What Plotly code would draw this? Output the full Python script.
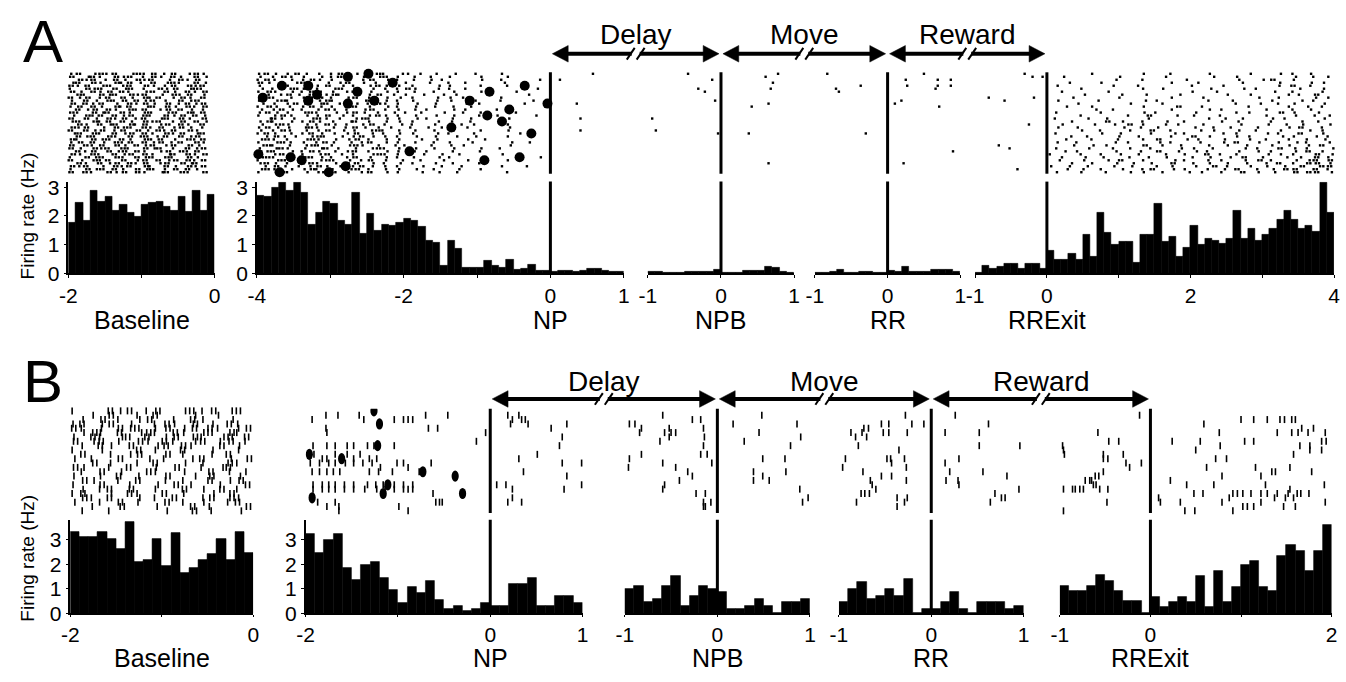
import plotly.graph_objects as go

W, H = 1346, 682
BIN = 0.1

# ---------------- histogram data (firing rate, Hz; 0.1 s bins) ----------------
A_BASE_T0 = -2.0
A_BASE_HIST = [1.76, 2.47, 1.84, 2.88, 2.5, 2.69, 2.18, 2.41, 2.13, 1.99,
               2.39, 2.47, 2.5, 2.31, 2.18, 2.69, 2.16, 2.88, 2.18, 2.73]
A_MAIN_T0 = -4.0
A_MAIN_HIST = [2.72, 2.66, 3.0, 3.17, 2.89, 3.17, 2.83, 1.71, 2.13, 2.49,
               2.44, 1.84, 1.69, 2.83, 1.39, 2.07, 1.48, 1.69, 1.65, 1.76,
               1.90, 1.84, 1.62, 1.15, 1.06, 0.25, 1.15, 0.87, 0.18, 0.21,
               0.21, 0.45, 0.25, 0.21, 0.47, 0.13, 0.16, 0.30, 0.10, 0.08,
               0.05, 0.08, 0.08, 0.05, 0.10, 0.15, 0.15, 0.08, 0.06, 0.06]
A_NPB_T0 = -1.0
A_NPB_HIST = [0.06, 0.06, 0.01, 0.01, 0.01, 0.06, 0.06, 0.06, 0.06, 0.13,
              0.02, 0.02, 0.02, 0.08, 0.08, 0.08, 0.22, 0.18, 0.06, 0.01]
A_RR_T0 = -1.0
A_RR_HIST = [0.02, 0.03, 0.04, 0.12, 0.02, 0.02, 0.06, 0.06, 0.02, 0.03,
             0.10, 0.05, 0.22, 0.06, 0.05, 0.05, 0.11, 0.11, 0.11, 0.04]
A_RRX_T0 = -1.0
A_RRX_HIST = [0.02, 0.25, 0.16, 0.22, 0.34, 0.34, 0.16, 0.34, 0.34, 0.16,
              0.79, 0.47, 0.47, 0.67, 0.47, 1.34, 0.58, 2.10, 1.43, 1.00,
              1.11, 1.11, 0.36, 1.34, 1.34, 2.42, 1.11, 1.28, 0.58, 0.90,
              1.67, 1.01, 1.22, 1.15, 1.03, 1.22, 2.19, 1.22, 1.56, 1.15,
              1.34, 1.56, 1.87, 2.19, 1.87, 1.57, 1.67, 1.45, 3.17, 2.10]

B_BASE_T0 = -2.0
B_BASE_HIST = [3.33, 3.10, 3.10, 3.33, 3.03, 2.63, 3.72, 2.10, 2.18, 3.03,
               1.95, 3.26, 1.64, 1.86, 2.18, 2.41, 3.03, 2.18, 3.33, 2.47]
B_MAIN_T0 = -2.0
B_MAIN_HIST = [3.23, 2.47, 2.97, 3.23, 1.84, 1.35, 1.96, 2.09, 1.46, 0.95,
               0.44, 1.08, 0.82, 1.33, 0.57, 0.19, 0.32, 0.09, 0.19, 0.44,
               0.32, 0.32, 1.20, 1.20, 1.46, 0.32, 0.32, 0.70, 0.70, 0.44]
B_NPB_T0 = -1.0
B_NPB_HIST = [1.00, 1.13, 0.46, 0.59, 1.13, 1.54, 0.32, 0.72, 1.13, 1.00,
              0.87, 0.17, 0.17, 0.32, 0.59, 0.32, 0.04, 0.46, 0.46, 0.59]
B_RR_T0 = -1.0
B_RR_HIST = [0.46, 1.00, 1.28, 0.59, 0.72, 1.00, 0.72, 1.41, 0.04, 0.17,
             0.17, 0.46, 0.87, 0.17, 0.04, 0.46, 0.46, 0.46, 0.17, 0.32]
B_RRX_T0 = -1.0
B_RRX_HIST = [1.13, 0.92, 0.92, 1.13, 1.55, 1.34, 0.92, 0.50, 0.50, 0.04,
              0.68, 0.26, 0.49, 0.68, 0.49, 1.51, 0.26, 1.73, 0.49, 1.10,
              1.96, 2.15, 1.10, 0.90, 2.35, 2.79, 2.56, 1.73, 2.56, 3.60]

# ---------------- raster data ----------------
# grid rows: '.' no spike, digit d = one spike at (col + d/10) of the bin,
# letter a-e = two spikes in the bin (first at (idx/10 + 0.05), second 0.45 later)
A_BASE_RASTER_T0, A_BASE_RASTER_DT = -2.0, 0.1
A_BASE_RASTER = [
    "4b.7c2a.9d3e.1b.6c5",
    "c.8a3.d6b.2e7.a4.c9",
    ".e5b.1c8.d4a.9.b3e.",
    "7a.c4.e2b9.d.6a1.c8",
    "b3d.8c.5a.e7.2b.d4a",
    "2.e6a.b9c.3.d5e.8b1",
    "d8.b4e.a2.7c.b6.a3e",
    ".c1.d7a.e5b.9.c2d.6",
    "a6e.3b.c8.d1a.4e7.b",
    "5.b9.d2e.a6c.3.b8d.",
    "e.a4c.7.b3d8.e.1a5c",
    "3d.b6.e1a.9c.d7.b2e",
    ".a7e.c5.d2b.6e.a9.4",
    "c2.d8a.b4.e3.7c.d1b",
    "8.e3b.a6d.c1.b5e.a7",
    "b.c9.d4e.2a.8b.c6.d",
    "6a.e2c.b7.d5a.3e.c9",
    ".d5.a8b.e1c.7d.b4.a",
    "e4c.9.d6a.b2e.5c8.3",
    "a.b7e.3c.d9.a1b.e6.",
    "9c.d2.a8e.b5.c3d.7a",
    ".b6a.e4.c9d.2a.b8e.",
    "d1.c7b.a5.e3d.6.c2b",
    "4e.a9.d3c.b7e.1a.d5",
    "c.b2d.e8.a6c.4b.e9.",
    "b7.e5a.c1.d8b.3.a6c",
    ".a3c.d9e.b4.7e.c2d.",
    "e6.b1.a7d.c5.9a.b3e",
    "2.d8c.e4.b6a.c1.d7.",
    "a9.e3b.d.5c.a8e.b2c",
    ".c4.a7e.b2d.6c.e9a.",
    "d5b.8.c3a.e1.b7.d4c",
    "3.e9d.a5.c8b.2e.a6.",
    "b.a1.d6e.c4.9b.d3.e",
]
A_MAIN_RASTER_T0, A_MAIN_RASTER_DT = -4.0, 0.1
A_MAIN_RASTER = [
    "3a6.2c8.5.1b.7.4d2.96.3.5..1.8...4......",
    "5.2e7.4.9.1a3.6.8c.2.5.7..3...6...2.....",
    "1b4.8.3d6.2.7.5e.9.1.4.8.2....7..3....6.",
    "c7.3.5a1.8.4b.6.2.9.3..6..1.4....8......",
    "4.9d2.6.3e.8.1.5c7.4.2..9.3...5...1.....",
    "8.1.6a4.2.7b.3.9.5.1d6..8.2.4..7......3.",
    "2e5.9.1c7.4.3a.6.8.2.5..1.9...6....4....",
    ".6.3b8.2.5d1.9.4e.7.3.8..5.2...9.....1..",
    "6c2.7.4a9.1.5b.3.8.6.2..7.4.1....3......",
    "3.8d1.5.6e2.4.9c.7.1.3..6.5..8...2...7..",
    "9.4.2a6.8b.3.7.1d5.2.9..4...6.3.....5...",
    "1e7.5.3c8.2.6a.4.9.1.7..3.8..2....6.....",
    "7.3b9.1.4d6.2.8e.5.3.6.1..9.4...7.......",
    "4c8.2.6a1.9.3b7.5.8.2.4..6..1.5....3....",
    "2.5d7.9.3e.8.1.4c6.2.7..5.9...3.8.....1.",
    ".9a4.1.7b5.3.6d2.8.4.9.1..7..2....4.....",
    "5e1.8.2c6.4.9a.3.7.5.2..8.6..1...3......",
    "8.6b3.9.1d7.2.5e.4.8.1..3..9.6....2.....",
    "3c9.4.7a2.5.1b8.6.3.9..4.2..7.....5.....",
    "6.2d5.8.4e.9.3.7c1.4.6..2.8...5...3.....",
    "1a5.7.2b9.6.4d.8.2.5.3..7.1..6.....9....",
    ".4e8.3.6c1.7.2a9.5.1.8..4..3.9....2.....",
    "7b3.1.9d4.8.6e.2.7.4..5.6...8..1........",
    "2.8c6.4.1a5.9.3b.7.2.6..1.3..4....8..2..",
    "9d1.5.8e3.2.7c4.6.9.1..8..5.2.....6.....",
    "4.7a2.6.9b.1.5.8d3.4.7..2.9...6..1......",
    "6e3.9.1c5.7.4a.2.8.3.5.1..7...4.........",
    "3.5b8.2.7d.6.1.9e4.2..8..3.6.....5......",
    "8c2.4.6a9.1.3b.5.7.1.4..9.2...........7.",
    "1.9d5.3.8e4.7.2c.6.9..3..5..8.....2.....",
    "5a6.1.4b2.8.5d.9.3.6.2..4.7...3.........",
    ".2e9.7.3c6.4.1a8.5.1..7..2.9.....4..8...",
    "7b4.8.5d1.3.9e.2.6.4.8..1..6..5.........",
    "2.6c1.9.4a7.5.3b.8.2..6.9..3......1.....",
]
A_RRX_RASTER_T0, A_RRX_RASTER_DT = 0.0, 0.1
A_RRX_RASTER = [
    "......3......5...2....7.....4...6.2.8...",
    "..4.......2.....6......3..5.......7..1.2",
    ".........7...3.....5......8...2c..4.....",
    "...2...6.........4...1.....3....5...9.6.",
    ".5.......3..7.......2...6.......4.a.7...",
    "....8........4..2.....9....5.1.....3..6.",
    "..1.....6...........3..7.......8..2...4.",
    ".....3....5..9....6......2..4....7.1.d..",
    "...7......1......4...8.......6..3....5.2",
    ".6.....2.....8.3......5..9.....4...6.1..",
    "....4......7....1.........3..8..2.5...7.",
    "..8...3......5....b..6......1....7..4.3.",
    "......9..2.......4....7.3.....6...2.8...",
    ".3.....5.....6.1....8.....4.2...e.5..9..",
    "....7......3..a...2.5...1.....6...7..3.4",
    ".1...8..4.....2.......6.9..3...5.1....7.",
    "...5....c.6..3..8..1....4.7....2...6.8..",
    "..2...7..5.d.4..6.3..8.....1..9..4.7...5",
    ".6..3.....8..1.5....7..2.6...4...8.b..3.",
    "....9..4...6..e..2...5.3..8..1..6...7.4.",
    ".2.....7..3...5..9.1....6.4...8.2..a..5.",
    "...4.6....1.8....3..c.7...5.2...9.4..6.1",
    "..7...2..9...4.d...6.1..8...3.5..7..2.8.",
    ".5..1....6.3...8.2...4..7.b..6..3.9.1..4",
    "...8..5.3....e..1.7...6..2.9...4.8..5.a.",
    ".3...9...2.6..4...8.5..1...7.3..c.6.2..9",
    "..6.2....7...1.d..4.9.3...8..5.2..7.b.4.",
    "4...7..5..3.8...6..2..a.1.4...9.6.3..e.8",
    "..1..4.9...5..2.7...3.8..6.c..1..5.4.d.2",
    ".8...2..6.a..4...9.1..5.3..7.e.2..8.6b.c",
    "...5..3..8..1.6..d..4.7..2.9..6.a.3.ce.5",
    "6..2.7...4.9...3.5..8..b.1..4.7..2.d..ab",
    "..9..1.5..6..3e..7.2..4.8.c..3.6.ad..b.1",
    ".4..8...2..7.5..1..9.6..3..a.5.8..e.cd.7",
]
# sparse spikes: [time (s), trial]
A_NP_SPIKES = [[0.13, 2], [0.58, 0], [0.36, 10], [0.41, 15], [0.41, 19]]
A_NPB_SPIKES = [[-0.45, 0], [-0.31, 5], [-0.22, 6], [-0.12, 2], [-0.08, 9], [-0.94, 15],
                [-0.89, 19], [-0.04, 20], [0.61, 1], [0.78, 0], [0.71, 3], [0.68, 5],
                [0.42, 11], [0.65, 10], [0.38, 20], [0.65, 30]]
A_RR_SPIKES = [[-0.83, 0], [-0.71, 5], [-0.67, 6], [-0.37, 4], [-0.30, 20], [0.25, 2],
               [0.27, 4], [0.50, 0], [0.69, 2], [0.69, 4], [0.66, 5], [0.87, 2], [0.87, 4],
               [0.10, 10], [0.19, 9], [0.71, 11], [0.90, 26], [0.22, 30]]
A_RRX_PRE_SPIKES = [[-0.81, 8], [-0.59, 9], [-0.18, 8], [-0.25, 17], [-0.67, 24],
                    [-0.52, 25], [-0.41, 32], [-0.31, 0], [-0.20, 1], [-0.06, 1]]
A_MAIN_MARKS = [[-2.76, 1], [-2.48, 0], [-3.66, 4], [-3.30, 4], [-2.15, 3], [-3.92, 8],
                [-3.18, 7], [-2.63, 6], [-3.30, 9], [-2.76, 10], [-2.40, 9], [-1.10, 9],
                [-0.83, 6], [-0.35, 4], [-0.04, 10], [-0.56, 12], [-0.86, 14], [-0.66, 16],
                [-1.35, 18], [-0.26, 20], [-1.92, 26], [-3.98, 27], [-3.54, 28], [-3.39, 29],
                [-2.79, 31], [-3.69, 33], [-3.02, 33], [-0.90, 29], [-0.42, 28]]

B_BASE_RASTER_T0, B_BASE_RASTER_DT = -2.0, 0.1
B_BASE_RASTER = [
    "2...b5c.3d..6a4e.7b.",
    "..5.c..3.a...7..2...",
    ".4.d.2.6e..3.b5..8..",
    "3a.5c.7..2d4.e.6.b3.",
    "b2.4.c6a.3e.5d.a1.4c",
    ".5e3.b.8d2.c4.6a.e2.",
    "4.c2.7a.b.5d.e3.8c.a",
    "d.6b.3.e5.a2.7c.4d.1",
    ".3.a5.e..6c.b2..d.5.",
    "2..5...c.3..a..6..4.",
    ".b..4.6d..e.3..5.a..",
    "5.3..c..7.2..4b..6.d",
    "..e.4..3.a..6.5..c2.",
    "d5..2.b..4.e..3.7a..",
    ".2.c.6..d3..5..b.4.2",
    "4..3.a.5..e..7.c..6.",
    ".d6..2.b..4.3..a.5e.",
    "3..c..5..6.d.2..4..b",
    ".4.2a.e..3..c.6.d.2.",
    "2b..5.c3..a.4..7.e..",
    ".d3.a..6.2.b..5c.e4.",
    "5..2.c.4..d.3.6..2a.",
    "..4..e...5...b.2...c",
    ".3..2.....6..d.4..7.",
]
B_MAIN_SPIKES = [
    [-1.93, 2], [-1.78, 1], [-1.65, 1], [-1.42, 1], [-1.37, 2], [-1.04, 2], [-0.94, 2],
    [-0.89, 2], [-0.84, 2], [-0.70, 1], [-0.46, 1], [-0.67, 4], [-0.57, 4], [-1.78, 4],
    [-1.77, 5], [-0.15, 7], [-0.05, 5], [-1.92, 8], [-1.77, 8], [-1.68, 8], [-1.55, 8],
    [-1.48, 8], [-1.33, 8], [-1.26, 8], [-1.04, 8], [-1.97, 10], [-1.91, 10], [-1.82, 11],
    [-1.77, 11], [-1.68, 10], [-1.55, 10], [-1.48, 11], [-1.41, 10], [-1.31, 11],
    [-1.23, 11], [-1.95, 12], [-1.85, 12], [-1.75, 12], [-1.68, 12], [-1.57, 12],
    [-1.48, 12], [-1.38, 12], [-1.28, 12], [-1.19, 13], [-1.01, 12], [-0.94, 12],
    [-0.89, 13], [-0.64, 12], [-1.93, 14], [-1.85, 14], [-1.77, 14], [-1.70, 14],
    [-1.63, 14], [-1.31, 14], [-1.21, 14], [-1.06, 14], [-0.77, 14], [-1.92, 17],
    [-1.82, 17], [-1.75, 17], [-1.68, 17], [-1.58, 17], [-1.48, 17], [-1.33, 17],
    [-1.24, 17], [-1.16, 17], [-1.04, 17], [-0.94, 17], [-0.84, 17], [-1.92, 18],
    [-1.82, 18], [-1.75, 18], [-1.68, 18], [-1.58, 18], [-1.48, 18], [-1.36, 18],
    [-1.23, 18], [-1.14, 18], [-1.04, 18], [-0.94, 18], [-0.89, 18], [-0.84, 18],
    [-0.62, 19], [-0.55, 21], [-1.68, 21], [-1.64, 22], [-1.64, 23], [-0.99, 22],
    [-0.89, 23], [-0.59, 21], [-0.52, 21], [-1.77, 22], [-1.87, 21]]
B_NP_SPIKES = [[0.19, 1], [0.24, 2], [0.31, 1], [0.34, 2], [0.38, 2], [0.41, 3], [0.22, 3],
               [0.66, 4], [0.83, 3], [0.78, 6], [0.75, 8], [0.51, 10], [0.31, 11], [0.99, 12],
               [0.78, 12], [0.36, 14], [0.83, 15], [0.07, 17], [0.17, 17], [0.24, 18],
               [0.80, 18], [0.99, 17], [0.19, 21], [0.24, 20], [0.34, 21]]
B_NPB_SPIKES = [[-0.95, 3], [-0.89, 3], [-0.82, 4], [-0.59, 1], [-0.52, 4], [-0.27, 2],
                [-0.18, 2], [-0.84, 5], [-0.57, 5], [-0.52, 6], [-0.50, 5], [-0.45, 5],
                [-0.62, 7], [-0.15, 8], [-0.82, 10], [-0.95, 11], [-0.96, 13], [-0.59, 12],
                [-0.45, 13], [-0.32, 14], [-0.18, 10], [-0.41, 16], [-0.27, 15], [-0.59, 18],
                [-0.57, 17], [-0.23, 19], [-0.15, 21], [-0.13, 22], [-0.15, 4], [-0.14, 6],
                [-0.11, 10], [-0.06, 12], [-0.13, 19], [-0.07, 21], [-0.15, 22],
                [0.17, 3], [0.48, 1], [0.86, 3], [0.45, 5], [0.29, 7], [0.79, 8], [0.90, 6],
                [0.49, 11], [0.73, 11], [0.39, 14], [0.39, 16], [0.49, 15], [0.56, 16],
                [0.74, 14], [0.89, 18], [0.92, 21], [0.98, 20]]
B_RR_SPIKES = [[-0.54, 3], [-0.46, 3], [-0.28, 1], [-0.21, 3], [-0.08, 3], [-0.87, 5],
               [-0.82, 6], [-0.75, 5], [-0.73, 4], [-0.70, 6], [-0.68, 4], [-0.79, 8],
               [-0.52, 5], [-0.46, 5], [-0.26, 5], [-0.35, 9], [-0.48, 11], [-0.44, 11],
               [-0.43, 12], [-0.29, 11], [-0.27, 13], [-0.93, 11], [-0.96, 13], [-0.74, 14],
               [-0.54, 15], [-0.43, 15], [-0.27, 16], [-0.66, 16], [-0.64, 17], [-0.60, 18],
               [-0.76, 19], [-0.72, 19], [-0.67, 19], [-0.81, 21], [-0.37, 20], [-0.26, 20],
               [-0.29, 21], [-0.37, 22],
               [0.26, 1], [0.62, 3], [0.15, 5], [0.52, 5], [0.52, 8], [0.96, 8], [0.30, 11],
               [0.15, 12], [0.20, 14], [0.56, 14], [0.82, 15], [0.16, 16], [0.29, 16],
               [0.30, 17], [0.69, 19], [0.76, 20], [0.80, 20], [0.95, 18], [0.64, 21]]
B_RRX_SPIKES = [[-0.97, 8], [-0.96, 9], [-0.95, 10], [-0.58, 5], [-0.46, 7], [-0.35, 7],
                [-0.52, 10], [-0.52, 11], [-0.47, 11], [-0.30, 10], [-0.27, 12], [-0.23, 13],
                [-0.10, 12], [-0.61, 15], [-0.57, 15], [-0.52, 14], [-0.72, 16], [-0.67, 16],
                [-0.65, 16], [-0.63, 17], [-0.60, 17], [-0.96, 18], [-0.86, 18], [-0.83, 18],
                [-0.78, 18], [-0.74, 18], [-0.56, 18], [-0.47, 18], [-0.48, 21], [-0.96, 23],
                [-0.12, 1],
                [0.59, 3], [0.76, 5], [1.00, 2], [1.14, 2], [1.29, 2], [1.43, 2], [1.48, 2],
                [1.56, 2], [1.60, 2], [1.40, 5], [1.56, 5], [1.63, 5], [1.67, 4], [1.74, 5],
                [1.80, 4], [1.93, 5], [0.24, 7], [0.55, 7], [0.77, 8], [1.04, 7], [1.14, 7],
                [1.65, 8], [1.76, 8], [1.89, 7], [1.94, 7], [0.50, 9], [1.58, 10], [1.76, 9],
                [1.89, 9], [0.72, 11], [0.84, 11], [0.62, 13], [0.79, 15], [1.16, 13],
                [1.34, 14], [1.38, 14], [1.54, 13], [1.78, 14], [1.22, 15], [0.22, 16],
                [0.40, 17], [0.70, 17], [0.48, 19], [0.58, 19], [0.91, 19], [0.96, 19],
                [1.02, 19], [1.11, 19], [1.22, 19], [1.29, 19], [1.40, 19], [1.52, 19],
                [1.62, 19], [1.66, 19], [1.75, 19], [1.27, 17], [1.54, 18], [1.92, 17],
                [0.09, 20], [0.11, 21], [0.33, 21], [0.79, 21], [0.87, 20], [1.02, 22],
                [1.07, 22], [1.14, 22], [1.22, 21], [1.37, 20], [1.49, 20], [1.58, 20],
                [1.47, 22], [1.60, 22], [1.93, 21], [0.38, 23], [0.49, 23], [0.91, 23]]
B_MAIN_MARKS = [[-1.26, 0], [-1.20, 3], [-1.22, 8], [-1.96, 10], [-1.61, 11], [-0.73, 14],
                [-0.38, 15], [-1.11, 17], [-1.93, 20], [-1.16, 19], [-0.30, 19]]

EPOCHS = ["Delay", "Move", "Reward"]

# ---------------- layout configuration (pixels) ----------------
FONT = "Liberation Sans, Arial, sans-serif"
NARROW = "Liberation Sans Narrow, Arial Narrow, Liberation Sans, sans-serif"

PANEL = {
    "A": dict(hist=(180.1, 274.0), rast=(68.0, 172.0), ymax=3.2, nrows=34, ticklen=3,
              arrow_y=49, text_y=29, label_y=322, letter=(34, 36), ytitle=(19, 215)),
    "B": dict(hist=(527.0, 623.0), rast=(413.0, 520.0), ymax=3.8, nrows=24, ticklen=2,
              arrow_y=403, text_y=385, label_y=669, letter=(34, 385), ytitle=(19, 566)),
}

COLS = [
    dict(panel="A", px=(60, 208), rng=(-2, 0), t0=A_BASE_T0, hist=A_BASE_HIST, yax=True,
         event=False, tv=[-2, -1, 0], tt=["-2", "", "0"], label="Baseline"),
    dict(panel="A", px=(250.7, 621.7), rng=(-4, 1), t0=A_MAIN_T0, hist=A_MAIN_HIST, yax=True,
         event=True, tv=[-4, -3, -2, -1, 0, 1], tt=["-4", "", "-2", "", "0", "1"], label="NP"),
    dict(panel="A", px=(646, 794), rng=(-1, 1), t0=A_NPB_T0, hist=A_NPB_HIST, yax=False,
         event=True, tv=[-1, 0, 1], tt=["-1", "0", "1"], label="NPB"),
    dict(panel="A", px=(815, 962), rng=(-1, 1), t0=A_RR_T0, hist=A_RR_HIST, yax=False,
         event=True, tv=[-1, 0, 1], tt=["-1", "0", "1"], label="RR"),
    dict(panel="A", px=(977, 1340), rng=(-1, 4), t0=A_RRX_T0, hist=A_RRX_HIST, yax=False,
         event=True, tv=[-1, 0, 1, 2, 3, 4], tt=["-1", "0", "", "2", "", "4"], label="RRExit"),
    dict(panel="B", px=(62, 247), rng=(-2, 0), t0=B_BASE_T0, hist=B_BASE_HIST, yax=True,
         event=False, tv=[-2, -1, 0], tt=["-2", "", "0"], label="Baseline"),
    dict(panel="B", px=(300, 580), rng=(-2, 1), t0=B_MAIN_T0, hist=B_MAIN_HIST, yax=True,
         event=True, tv=[-2, -1, 0, 1], tt=["-2", "", "0", "1"], label="NP"),
    dict(panel="B", px=(622.7, 810), rng=(-1, 1), t0=B_NPB_T0, hist=B_NPB_HIST, yax=False,
         event=True, tv=[-1, 0, 1], tt=["-1", "0", "1"], label="NPB"),
    dict(panel="B", px=(839.3, 1026), rng=(-1, 1), t0=B_RR_T0, hist=B_RR_HIST, yax=False,
         event=True, tv=[-1, 0, 1], tt=["-1", "0", "1"], label="RR"),
    dict(panel="B", px=(1062.7, 1337.5), rng=(-1, 2), t0=B_RRX_T0, hist=B_RRX_HIST, yax=False,
         event=True, tv=[-1, 0, 1, 2], tt=["-1", "0", "", "2"], label="RRExit"),
]

RASTERS = {
    0: dict(grid=(A_BASE_RASTER, A_BASE_RASTER_T0, A_BASE_RASTER_DT)),
    1: dict(grid=(A_MAIN_RASTER, A_MAIN_RASTER_T0, A_MAIN_RASTER_DT), sparse=A_NP_SPIKES,
            marks=A_MAIN_MARKS),
    2: dict(sparse=A_NPB_SPIKES),
    3: dict(sparse=A_RR_SPIKES),
    4: dict(grid=(A_RRX_RASTER, A_RRX_RASTER_T0, A_RRX_RASTER_DT), sparse=A_RRX_PRE_SPIKES),
    5: dict(grid=(B_BASE_RASTER, B_BASE_RASTER_T0, B_BASE_RASTER_DT)),
    6: dict(sparse=B_MAIN_SPIKES + B_NP_SPIKES, ellipses=B_MAIN_MARKS),
    7: dict(sparse=B_NPB_SPIKES),
    8: dict(sparse=B_RR_SPIKES),
    9: dict(sparse=B_RRX_SPIKES),
}


def fx(px):
    return px / W


def fy(py):
    return 1 - py / H


def xpix(col, t):
    (p0, p1), (r0, r1) = col["px"], col["rng"]
    return p0 + (t - r0) / (r1 - r0) * (p1 - p0)


def parse_grid(rows, t0, dt):
    xs, ys = [], []
    for r, s in enumerate(rows):
        for c, ch in enumerate(s):
            if ch.isdigit():
                xs.append(t0 + (c + int(ch) / 10) * dt)
                ys.append(r)
            elif ch in "abcde":
                off = (ord(ch) - 97) / 10 + 0.05
                xs += [t0 + (c + off) * dt, t0 + (c + off + 0.45) * dt]
                ys += [r, r]
    return xs, ys


fig = go.Figure()
layout = dict(width=W, height=H, margin=dict(l=0, r=0, t=0, b=0),
              paper_bgcolor="white", plot_bgcolor="white", showlegend=False,
              hovermode=False, bargap=0, barmode="overlay")
shapes, annotations = [], []
N = len(COLS)

for i, col in enumerate(COLS):
    k = i + 1
    kr = i + 1 + N
    p = PANEL[col["panel"]]
    xs_ = "" if k == 1 else str(k)
    layout["xaxis" + xs_] = dict(
        domain=[fx(col["px"][0]), fx(col["px"][1])], range=list(col["rng"]),
        anchor="y" + xs_, showline=True, linecolor="black", linewidth=1.5,
        ticks="outside", ticklen=p["ticklen"], tickwidth=1, tickcolor="black",
        tickvals=col["tv"], ticktext=col["tt"], ticklabeloverflow="allow",
        tickfont=dict(family=FONT, size=21, color="black"),
        showgrid=False, zeroline=False, fixedrange=True)
    yh = dict(domain=[fy(p["hist"][1]), fy(p["hist"][0])], range=[0, p["ymax"]],
              anchor="x" + xs_, showgrid=False, zeroline=False, fixedrange=True)
    if col["yax"]:
        yh.update(showline=True, linecolor="black", linewidth=1.5, ticks="outside",
                  ticklen=3, tickwidth=1, tickcolor="black", tickvals=[0, 1, 2, 3],
                  tickfont=dict(family=FONT, size=21, color="black"))
    else:
        yh.update(visible=False)
    layout["yaxis" + xs_] = yh
    layout["yaxis" + str(kr)] = dict(
        domain=[fy(p["rast"][1]), fy(p["rast"][0])],
        range=[p["nrows"] - 0.5, -0.5], anchor="x" + xs_, visible=False, fixedrange=True)

    # histogram
    vals = col["hist"]
    centers = [col["t0"] + (j + 0.5) * BIN for j in range(len(vals))]
    fig.add_trace(go.Bar(x=centers, y=vals, width=BIN, xaxis="x" + xs_, yaxis="y" + xs_,
                         marker=dict(color="black", line=dict(color="black", width=0.5))))

    # raster
    rs = RASTERS[i]
    if col["panel"] == "A":
        mk = dict(symbol="square", size=2.4, color="black", line=dict(width=0))
    else:
        mk = dict(symbol="line-ns", size=5, color="black", line=dict(width=1.6, color="black"))
    rx, ry = [], []
    if "grid" in rs:
        gx, gy = parse_grid(*rs["grid"])
        rx += gx
        ry += gy
    if "sparse" in rs:
        rx += [s[0] for s in rs["sparse"]]
        ry += [s[1] for s in rs["sparse"]]
    fig.add_trace(go.Scatter(x=rx, y=ry, mode="markers", marker=mk, cliponaxis=False,
                             xaxis="x" + xs_, yaxis="y" + str(kr)))
    if "marks" in rs:
        fig.add_trace(go.Scatter(x=[m[0] for m in rs["marks"]], y=[m[1] for m in rs["marks"]],
                                 mode="markers", cliponaxis=False,
                                 marker=dict(symbol="circle", size=10, color="black",
                                             line=dict(width=0)),
                                 xaxis="x" + xs_, yaxis="y" + str(kr)))
    if "ellipses" in rs:
        for t, r in rs["ellipses"]:
            shapes.append(dict(type="circle", xref="x" + xs_, yref="y" + str(kr),
                               xsizemode="pixel", ysizemode="pixel", xanchor=t, yanchor=r,
                               x0=-3.6, x1=3.6, y0=-5.6, y1=5.6, fillcolor="black",
                               line=dict(width=0)))

    # event lines
    if col["event"]:
        for yref in ("y" + xs_ + " domain", "y" + str(kr) + " domain"):
            shapes.append(dict(type="line", xref="x" + xs_, yref=yref, x0=0, x1=0,
                               y0=0, y1=1, line=dict(color="black", width=3)))

    # bottom label
    lx = xpix(col, 0) if col["event"] else (col["px"][0] + col["px"][1]) / 2
    annotations.append(dict(text=col["label"], x=fx(lx), y=fy(p["label_y"]), xref="paper",
                            yref="paper", showarrow=False, xanchor="center", yanchor="middle",
                            font=dict(family=FONT, size=25, color="black")))

# epoch arrows
for panel, idx in (("A", [1, 2, 3, 4]), ("B", [6, 7, 8, 9])):
    p = PANEL[panel]
    y = p["arrow_y"]
    ev = [xpix(COLS[j], 0) for j in idx]
    for e, name in enumerate(EPOCHS):
        a, b = ev[e] + 2, ev[e + 1] - 2
        hl, hh = 16, 8.5
        shapes.append(dict(type="line", xref="paper", yref="paper", x0=fx(a + hl - 1),
                           x1=fx(b - hl + 1), y0=fy(y), y1=fy(y),
                           line=dict(color="black", width=4)))
        for tip, base in ((a, a + hl), (b, b - hl)):
            shapes.append(dict(type="path", xref="paper", yref="paper",
                               path=f"M {fx(tip)},{fy(y)} L {fx(base)},{fy(y - hh)} "
                                    f"L {fx(base)},{fy(y + hh)} Z",
                               fillcolor="black", line=dict(color="black", width=0.5)))
        m = (a + b) / 2
        shapes.append(dict(type="rect", xref="paper", yref="paper", x0=fx(m - 4), x1=fx(m + 4),
                           y0=fy(y + 4), y1=fy(y - 4), fillcolor="white", line=dict(width=0)))
        for dx in (-5, 5):
            shapes.append(dict(type="line", xref="paper", yref="paper",
                               x0=fx(m + dx - 4), y0=fy(y + 6), x1=fx(m + dx + 4), y1=fy(y - 6),
                               line=dict(color="black", width=2)))
        annotations.append(dict(text=name, x=fx(m), y=fy(p["text_y"]), xref="paper",
                                yref="paper", showarrow=False, xanchor="center",
                                yanchor="middle",
                                font=dict(family=NARROW, size=28, color="black")))
    annotations.append(dict(text=panel, x=fx(p["letter"][0]), y=fy(p["letter"][1]),
                            xref="paper", yref="paper", showarrow=False, xanchor="center",
                            yanchor="middle", font=dict(family=FONT, size=60, color="black")))
    annotations.append(dict(text="Firing rate (Hz)", x=fx(p["ytitle"][0]),
                            y=fy(p["ytitle"][1]), xref="paper", yref="paper", showarrow=False,
                            textangle=-90, xanchor="center", yanchor="middle",
                            font=dict(family=FONT, size=19, color="black")))

layout["shapes"] = shapes
layout["annotations"] = annotations
fig.update_layout(**layout)
fig.write_html("out.html", config={"displayModeBar": False},
               post_script="document.body.style.margin='0';"
                           "document.body.style.overflow='hidden';")
